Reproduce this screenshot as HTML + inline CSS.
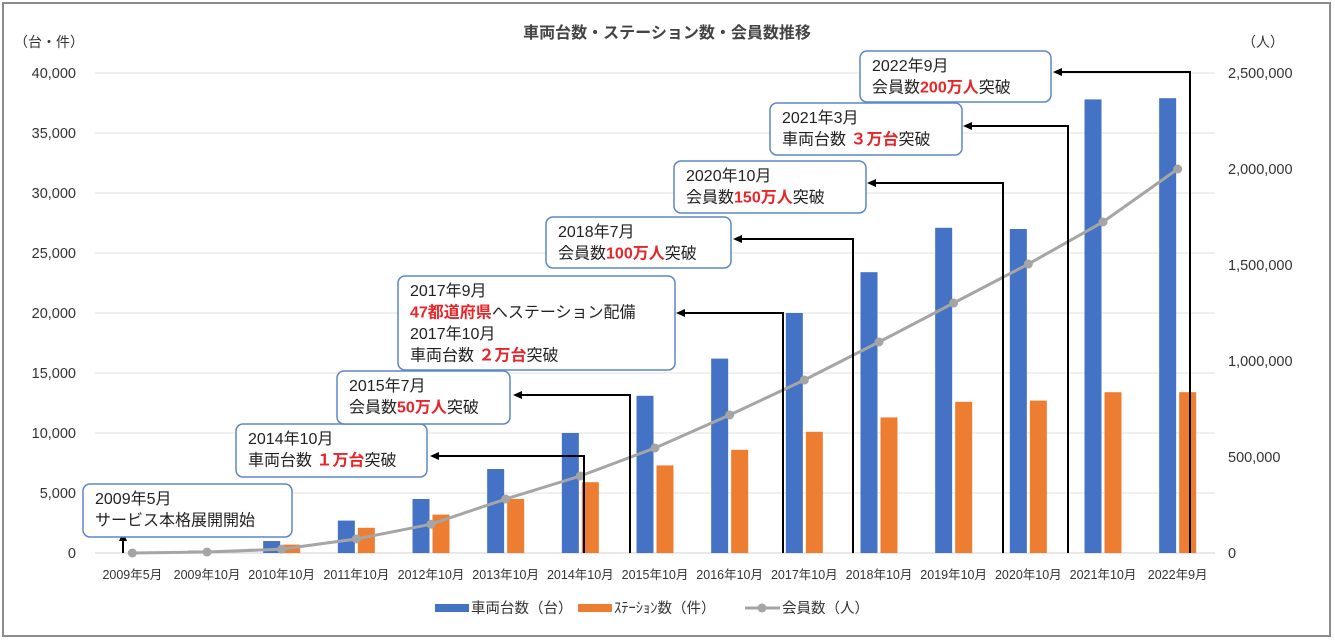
<!DOCTYPE html>
<html><head><meta charset="utf-8">
<style>
body{margin:0;background:#fff;}
svg{display:block;font-family:"Liberation Sans","Noto Sans CJK JP",sans-serif;}
</style></head>
<body>
<svg id="chart" width="1335" height="641" viewBox="0 0 1335 641">
<rect x="3" y="3" width="1327" height="633" fill="#fff" stroke="#8c8c8c" stroke-width="2"/>
<text x="667" y="38" text-anchor="middle" font-size="16" font-weight="bold" fill="#444">車両台数・ステーション数・会員数推移</text>
<text x="14" y="47" font-size="14" fill="#333">（台・件）</text>
<text x="1242" y="47" font-size="14" fill="#333">（人）</text>
<g id="grid"></g><g id="bars"></g><g id="line"></g><g id="annot"></g><g id="legend"></g>
</svg>
<script>
const categories=["2009年5月","2009年10月","2010年10月","2011年10月","2012年10月","2013年10月","2014年10月","2015年10月","2016年10月","2017年10月","2018年10月","2019年10月","2020年10月","2021年10月","2022年9月"];
const vehicles=[0,200,1000,2700,4500,7000,10000,13100,16200,20000,23400,27100,27000,37800,37900];
const stations=[0,0,700,2100,3200,4500,5900,7300,8600,10100,11300,12600,12700,13400,13400];
const members=[0,5000,20000,73000,150000,281000,401000,547000,719000,901000,1099000,1302000,1505000,1724000,2000000];
const leftTicks=[0,5000,10000,15000,20000,25000,30000,35000,40000];
const rightTicks=[0,500000,1000000,1500000,2000000,2500000];

const NS="http://www.w3.org/2000/svg";
const X0=95,X1=1215,Y0=553,Y1=73;
const band=(X1-X0)/categories.length;
const xc=i=>X0+band*(i+0.5);
const yL=v=>Y0-(v/40000)*(Y0-Y1);
const yR=v=>Y0-(v/2500000)*(Y0-Y1);
function mk(tag,attrs,parent,txt){const e=document.createElementNS(NS,tag);for(const k in attrs)e.setAttribute(k,attrs[k]);if(txt!==undefined)e.textContent=txt;parent.appendChild(e);return e;}
const fmt=v=>v.toLocaleString('en-US');
const grid=document.getElementById('grid');
leftTicks.forEach(t=>{
  const l=mk('line',{x1:X0,x2:X1,y1:yL(t),y2:yL(t),stroke:t===0?'#d0d0d0':'#e2e2e2','stroke-width':1},grid);
  
  
  const tx=mk('text',{x:76,y:yL(t)+5,'text-anchor':'end','font-size':14.5,fill:'#333'},grid,fmt(t));
  
  
});
rightTicks.forEach(t=>{
  const tx=mk('text',{x:1228,y:yR(t)+5,'font-size':14.5,fill:'#333'},grid,fmt(t));
  
  
});
categories.forEach((c,i)=>{
  const tx=mk('text',{x:xc(i),y:579,'text-anchor':'middle','font-size':12.5,fill:'#333'},grid,c);
  
  
});
const bars=document.getElementById('bars');
const BW=17;
vehicles.forEach((v,i)=>{
  const r=mk('rect',{x:xc(i)-BW-1.5,y:yL(v),width:BW,height:Y0-yL(v),fill:'#4472c4'},bars);
  
  
});
stations.forEach((v,i)=>{
  const r=mk('rect',{x:xc(i)+1.5,y:yL(v),width:BW,height:Y0-yL(v),fill:'#ed7d31'},bars);
  
  
});
const annot=document.getElementById('annot');
const conns=[[584,456,430],[630,395,513],[783,313,676],[853,239,733],[1003,183,867],[1068,126,963],[1190,72,1053]];
conns.forEach(c=>{
  const p=mk('polyline',{points:`${c[0]},553 ${c[0]},${c[1]} ${c[2]+8},${c[1]}`,fill:'none',stroke:'#000','stroke-width':2},annot);
  
  
  const a=mk('polygon',{points:`${c[2]},${c[1]} ${c[2]+9},${c[1]-4} ${c[2]+9},${c[1]+4}`,fill:'#000'},annot);
  
  
});
const up=mk('line',{x1:123,y1:553,x2:123,y2:540,stroke:'#000','stroke-width':2},annot);


const upa=mk('polygon',{points:'123,532 119,541 127,541',fill:'#000'},annot);


const lg=document.getElementById('line');
const pl=mk('polyline',{points:members.map((m,i)=>xc(i)+','+yR(m)).join(' '),fill:'none',stroke:'#a5a5a5','stroke-width':3},lg);


members.forEach((m,i)=>{
  const d=mk('circle',{cx:xc(i),cy:yR(m),r:4.5,fill:'#a5a5a5'},lg);
  
  
});
const boxes=[
 [83,484,209,53,[["2009年5月"],["サービス本格展開開始"]]],
 [236,424,191,53,[["2014年10月"],["車両台数 ",["１万台"],"突破"]]],
 [337,371,173,53,[["2015年7月"],["会員数",["50万人"],"突破"]]],
 [398,276,277,94,[["2017年9月"],[["47都道府県"],"へステーション配備"],["2017年10月"],["車両台数 ",["２万台"],"突破"]]],
 [546,217,185,51,[["2018年7月"],["会員数",["100万人"],"突破"]]],
 [674,161,192,52,[["2020年10月"],["会員数",["150万人"],"突破"]]],
 [770,103,192,52,[["2021年3月"],["車両台数 ",["３万台"],"突破"]]],
 [860,51,191,51,[["2022年9月"],["会員数",["200万人"],"突破"]]]
];
boxes.forEach(b=>{
  const g=mk('g',{},annot);
  
  
  mk('rect',{x:b[0],y:b[1],width:b[2],height:b[3],rx:7,fill:'#fff',stroke:'#5b87c9','stroke-width':1.5},g);
  b[4].forEach((line,j)=>{
    const t=mk('text',{x:b[0]+12,y:b[1]+20+j*21.5,'font-size':16,fill:'#222'},g);
    line.forEach(seg=>{
      if(Array.isArray(seg)) mk('tspan',{fill:'#e8262a','font-weight':'bold'},t,seg[0]);
      else mk('tspan',{},t,seg);
    });
  });
});
const leg=document.getElementById('legend');
const L=[[435,'#4472c4','車両台数（台）','legend-vehicles'],[578,'#ed7d31','ｽﾃｰｼｮﾝ数（件）','legend-stations']];
L.forEach(l=>{
  const r=mk('rect',{x:l[0],y:604,width:34,height:8,fill:l[1]},leg);
  
  
  const t=mk('text',{x:l[0]+36,y:613,'font-size':14.5,fill:'#333'},leg,l[2]);
  
  
});
const ll=mk('line',{x1:745,x2:780,y1:608,y2:608,stroke:'#a5a5a5','stroke-width':3},leg);


const lc=mk('circle',{cx:762,cy:608,r:4.5,fill:'#a5a5a5'},leg);


const lt=mk('text',{x:782,y:613,'font-size':14.5,fill:'#333'},leg,'会員数（人）');


</script>
</body></html>
